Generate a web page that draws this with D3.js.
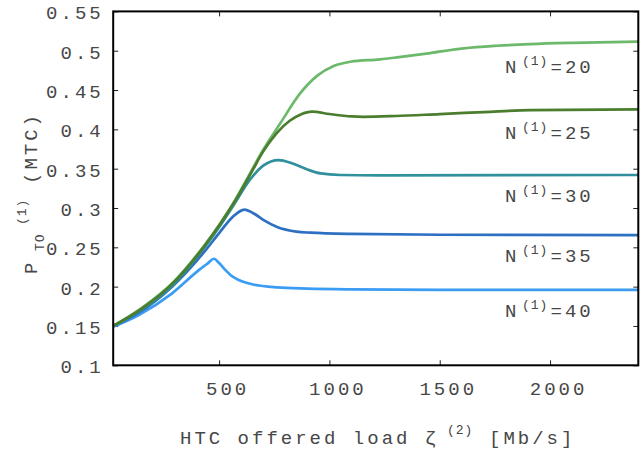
<!DOCTYPE html>
<html>
<head>
<meta charset="utf-8">
<script src="https://cdn.jsdelivr.net/npm/d3@7"></script>
<style>
  html, body { margin: 0; padding: 0; background: #fff; }
  svg { display: block; }
  text { font-family: "Liberation Mono", "DejaVu Sans Mono", monospace; fill: #474747; }
</style>
</head>
<body>
<svg id="chart" width="642" height="451"></svg>
<script>
// ---- data ----
const seriesNames = ["20", "25", "30", "35", "40"];
const seriesColors = ["#6cb96c", "#4b7d2e", "#30909b", "#2d70c2", "#3b9cf4"];

const n20 = [[20,0.150],[150,0.173],[300,0.208],[437,0.254],[506,0.281],[564,0.306],[642,0.345],
  [700,0.374],[778,0.408],[868,0.446],[944,0.468],[1019,0.4805],[1095,0.486],[1230,0.489],
  [1306,0.4915],[1457,0.497],[1608,0.503],[1759,0.5063],[1910,0.5084],[2100,0.510],[2400,0.5115]];
const n25 = [[20,0.150],[150,0.172],[300,0.207],[437,0.253],[506,0.280],[564,0.305],[642,0.343],
  [700,0.372],[760,0.395],[820,0.411],[870,0.419],[921,0.4225],[1000,0.4195],[1100,0.4165],
  [1155,0.416],[1300,0.417],[1500,0.4195],[1700,0.422],[1910,0.4245],[2400,0.4254]];
const n30 = [[20,0.150],[150,0.171],[300,0.205],[437,0.251],[506,0.278],[564,0.303],[640,0.336],
  [700,0.354],[770,0.361],[830,0.357],[900,0.349],[960,0.344],[1050,0.342],[1230,0.3415],[2400,0.342]];
const n35 = [[20,0.150],[136,0.167],[287,0.200],[438,0.246],[500,0.268],[559,0.288],[615,0.298],
  [657,0.293],[700,0.285],[763,0.276],[850,0.270],[913,0.2686],[1095,0.267],[1500,0.266],[2400,0.2655]];
const n40 = [[20,0.149],[136,0.164],[287,0.1915],[408,0.221],[450,0.230],[476,0.2355],[500,0.230],
  [529,0.221],[560,0.213],[589,0.2085],[650,0.203],[763,0.199],[900,0.1975],[1095,0.1966],
  [1500,0.196],[2400,0.196]];
const seriesData = [n20, n25, n30, n35, n40];

const xTicks = [500, 1000, 1500, 2000];
const xTickLabels = ["500", "1000", "1500", "2000"];
const yTicks = [0.1, 0.15, 0.2, 0.25, 0.3, 0.35, 0.4, 0.45, 0.5, 0.55];
const yTickLabels = ["0.1", "0.15", "0.2", "0.25", "0.3", "0.35", "0.4", "0.45", "0.5", "0.55"];
const labelBaselines = [72.7, 139.3, 201.7, 261.7, 317.3];

// ---- layout ----
const L = 113.2, R = 638.3, T = 11.4, B = 365.3;
const svg = d3.select("#chart");
const x = d3.scaleLinear().domain([20, 2400]).range([L, R]);
const y = d3.scaleLinear().domain([0.1, 0.55]).range([B, T]);

const FS = 19, LS = 3, SFS = 13;

// axes (inward ticks)
const gB = svg.append("g").attr("transform", `translate(0,${B})`)
  .call(d3.axisBottom(x).tickValues(xTicks).tickFormat((d, i) => xTickLabels[i]).tickSize(-5).tickPadding(0));
gB.selectAll("text").attr("y", 30).attr("dy", null).attr("dx", 8)
  .style("font-size", FS + "px").style("letter-spacing", LS + "px");
const gT = svg.append("g").attr("transform", `translate(0,${T})`)
  .call(d3.axisTop(x).tickValues(xTicks).tickFormat("").tickSize(-5));
const gL = svg.append("g").attr("transform", `translate(${L},0)`)
  .call(d3.axisLeft(y).tickValues(yTicks).tickFormat((d, i) => yTickLabels[i]).tickSize(-5).tickPadding(9.5));
gL.selectAll("text").attr("dy", null).attr("y", 7.5)
  .style("font-size", FS + "px").style("letter-spacing", LS + "px");
const gR = svg.append("g").attr("transform", `translate(${R},0)`)
  .call(d3.axisRight(y).tickValues(yTicks).tickFormat("").tickSize(-5));
[gB, gT, gL, gR].forEach(g => {
  g.select(".domain").remove();
  g.selectAll(".tick line").attr("stroke", "#222").attr("stroke-width", 1);
  g.selectAll("text").attr("fill", "#474747").attr("font-family", null);
});

// lines
const line = d3.line().x(d => x(d[0])).y(d => y(d[1])).curve(d3.curveMonotoneX);
const order = [4, 3, 2, 0, 1];
svg.append("g").selectAll("path").data(order).join("path")
  .attr("d", i => line(seriesData[i]))
  .attr("fill", "none")
  .attr("stroke", i => seriesColors[i])
  .attr("stroke-width", 2.7)
  .attr("stroke-linejoin", "round");

// frame
svg.append("rect").attr("x", L).attr("y", T).attr("width", R - L).attr("height", B - T)
  .attr("fill", "none").attr("stroke", "#000").attr("stroke-width", 2);

// series labels
seriesNames.forEach((n, i) => {
  const t = svg.append("text").attr("y", labelBaselines[i]).style("letter-spacing", LS + "px");
  t.append("tspan").attr("x", 505).style("font-size", FS + "px").text("N");
  t.append("tspan").attr("x", 522).attr("dy", -8).style("font-size", SFS + "px").style("letter-spacing", "1px").text("(1)");
  t.append("tspan").attr("x", 550.5).attr("dy", 8).style("font-size", FS + "px").text("=" + n);
});

// x axis label
const xl = svg.append("text").attr("y", 444).style("font-size", FS + "px").style("letter-spacing", LS + "px");
xl.append("tspan").attr("x", 180).text("HTC offered load ζ");
xl.append("tspan").attr("x", 447).attr("dy", -10).style("font-size", SFS + "px").style("letter-spacing", "1px").text("(2)");
xl.append("tspan").attr("x", 489).attr("dy", 10).text("[Mb/s]");

// y axis label (rotated)
const yl = svg.append("text").attr("transform", "translate(37,274) rotate(-90)")
  .style("font-size", FS + "px").style("letter-spacing", LS + "px");
yl.append("tspan").attr("x", 0).attr("y", 0).text("P");
yl.append("tspan").attr("x", 23).attr("y", 7).style("font-size", SFS + "px").style("letter-spacing", "1px").text("TO");
yl.append("tspan").attr("x", 49).attr("y", -11).style("font-size", SFS + "px").style("letter-spacing", "1px").text("(1)");
yl.append("tspan").attr("x", 90).attr("y", 0).text("(MTC)");
</script>
</body>
</html>
